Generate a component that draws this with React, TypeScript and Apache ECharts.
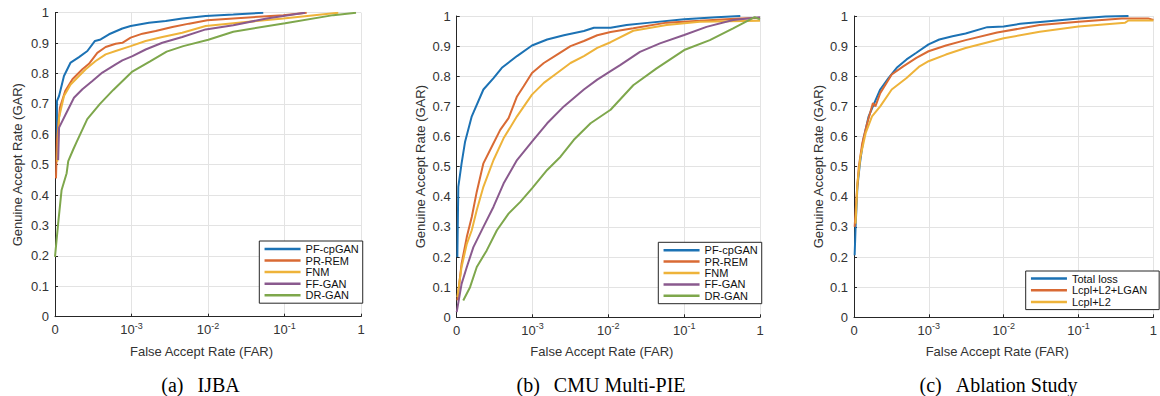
import React, { useEffect, useRef } from 'react';
import * as echarts from 'echarts';

// ---------- DATA ----------
// (a) IJBA
const IJBA_PFCPGAN_FAR = [1.06e-4, 1.06e-4, 1.13e-4, 1.31e-4, 1.60e-4, 2.06e-4, 2.65e-4, 3.33e-4, 3.95e-4, 5.08e-4, 7.59e-4, 9.75e-4, 1.69e-3, 2.80e-3, 4.61e-3, 9.33e-3, 2.14e-2, 5.28e-2];
const IJBA_PFCPGAN_GAR = [0.578, 0.709, 0.726, 0.792, 0.836, 0.854, 0.874, 0.907, 0.912, 0.929, 0.948, 0.956, 0.967, 0.973, 0.981, 0.989, 0.994, 1.0];
const IJBA_PRREM_FAR = [1.03e-4, 1.06e-4, 1.16e-4, 1.36e-4, 1.69e-4, 2.28e-4, 2.78e-4, 3.57e-4, 4.59e-4, 6.21e-4, 7.59e-4, 9.75e-4, 1.39e-3, 2.07e-3, 3.42e-3, 5.65e-3, 9.79e-3, 2.14e-2, 9.64e-2, 1.95e-1];
const IJBA_PRREM_GAR = [0.455, 0.58, 0.688, 0.742, 0.781, 0.814, 0.832, 0.868, 0.887, 0.898, 0.901, 0.918, 0.931, 0.94, 0.953, 0.964, 0.975, 0.981, 0.992, 1.0];
const IJBA_FNM_FAR = [1.07e-4, 1.13e-4, 1.31e-4, 1.60e-4, 2.06e-4, 2.52e-4, 3.40e-4, 4.59e-4, 6.21e-4, 9.75e-4, 1.53e-3, 2.53e-3, 4.61e-3, 9.33e-3, 2.14e-2, 9.64e-2, 5.05e-1];
const IJBA_FNM_GAR = [0.51, 0.655, 0.726, 0.764, 0.792, 0.814, 0.841, 0.863, 0.874, 0.89, 0.907, 0.92, 0.934, 0.956, 0.965, 0.981, 1.0];
const IJBA_FFGAN_FAR = [1.10e-4, 1.13e-4, 1.38e-4, 1.77e-4, 2.28e-4, 3.08e-4, 4.16e-4, 6.21e-4, 7.59e-4, 1.03e-3, 1.53e-3, 2.53e-3, 4.61e-3, 9.33e-3, 2.14e-2, 5.85e-2, 1.85e-1];
const IJBA_FFGAN_GAR = [0.515, 0.622, 0.666, 0.72, 0.748, 0.775, 0.803, 0.83, 0.843, 0.857, 0.879, 0.901, 0.92, 0.945, 0.959, 0.981, 1.0];
const IJBA_DRGAN_FAR = [1.0e-4, 1.10e-4, 1.22e-4, 1.42e-4, 1.49e-4, 1.73e-4, 1.92e-4, 2.64e-4, 3.87e-4, 5.78e-4, 1.01e-3, 1.75e-3, 2.88e-3, 4.75e-3, 1.01e-2, 2.14e-2, 1.02e-1, 4.35e-1, 8.61e-1];
const IJBA_DRGAN_GAR = [0.197, 0.307, 0.417, 0.472, 0.512, 0.55, 0.575, 0.65, 0.7, 0.746, 0.805, 0.84, 0.872, 0.89, 0.911, 0.9375, 0.965, 0.992, 1.0];

// (b) CMU Multi-PIE
const PIE_PFCPGAN_FAR = [1.02e-4, 1.05e-4, 1.16e-4, 1.29e-4, 1.58e-4, 2.25e-4, 3.06e-4, 3.94e-4, 6.24e-4, 9.84e-4, 1.56e-3, 2.59e-3, 4.76e-3, 6.46e-3, 1.07e-2, 1.74e-2, 3.53e-2, 1.0e-1, 2.66e-1, 5.50e-1];
const PIE_PFCPGAN_GAR = [0.2, 0.433, 0.511, 0.583, 0.667, 0.756, 0.794, 0.828, 0.867, 0.902, 0.922, 0.936, 0.95, 0.961, 0.961, 0.97, 0.978, 0.989, 0.996, 1.0];
const PIE_PRREM_FAR = [1.02e-4, 1.16e-4, 1.36e-4, 1.58e-4, 1.84e-4, 2.25e-4, 2.91e-4, 3.75e-4, 4.83e-4, 6.24e-4, 7.64e-4, 9.84e-4, 1.41e-3, 2.11e-3, 3.17e-3, 4.76e-3, 7.14e-3, 1.07e-2, 2.13e-2, 5.86e-2, 1.61e-1, 5.40e-1, 1.0];
const PIE_PRREM_GAR = [0.056, 0.178, 0.267, 0.333, 0.417, 0.511, 0.567, 0.622, 0.661, 0.733, 0.767, 0.811, 0.844, 0.872, 0.9, 0.917, 0.936, 0.947, 0.959, 0.978, 0.984, 0.992, 0.993];
const PIE_FNM_FAR = [1.02e-4, 1.16e-4, 1.36e-4, 1.58e-4, 1.84e-4, 2.25e-4, 3.06e-4, 4.15e-4, 6.24e-4, 9.84e-4, 1.41e-3, 2.11e-3, 3.17e-3, 4.76e-3, 7.14e-3, 1.07e-2, 2.13e-2, 5.86e-2, 1.61e-1, 1.0];
const PIE_FNM_GAR = [0.067, 0.167, 0.244, 0.289, 0.356, 0.433, 0.522, 0.594, 0.667, 0.739, 0.778, 0.811, 0.844, 0.867, 0.894, 0.913, 0.951, 0.97, 0.981, 0.984];
const PIE_FFGAN_FAR = [1.0e-4, 1.16e-4, 1.36e-4, 1.66e-4, 2.25e-4, 3.06e-4, 4.15e-4, 6.24e-4, 9.84e-4, 1.56e-3, 2.59e-3, 4.76e-3, 7.14e-3, 1.07e-2, 1.43e-2, 2.61e-2, 4.79e-2, 1.0e-1, 1.97e-1, 4.42e-1, 1.0];
const PIE_FFGAN_GAR = [0.017, 0.111, 0.167, 0.233, 0.3, 0.367, 0.444, 0.522, 0.583, 0.644, 0.7, 0.756, 0.789, 0.817, 0.837, 0.881, 0.909, 0.937, 0.964, 0.987, 0.996];
const PIE_DRGAN_FAR = [1.22e-4, 1.50e-4, 1.84e-4, 2.49e-4, 3.39e-4, 4.83e-4, 6.90e-4, 9.84e-4, 1.56e-3, 2.34e-3, 3.51e-3, 5.83e-3, 1.07e-2, 2.13e-2, 4.33e-2, 1.0e-1, 2.18e-1, 4.42e-1, 8.51e-1, 1.0];
const PIE_DRGAN_GAR = [0.056, 0.1, 0.167, 0.222, 0.289, 0.344, 0.383, 0.428, 0.489, 0.533, 0.589, 0.644, 0.689, 0.77, 0.826, 0.887, 0.92, 0.959, 0.996, 0.989];

// (c) Ablation Study
const ABL_TOTAL_FAR = [1.02e-4, 1.05e-4, 1.11e-4, 1.20e-4, 1.33e-4, 1.57e-4, 1.83e-4, 2.24e-4, 2.89e-4, 3.72e-4, 5.04e-4, 6.81e-4, 9.91e-4, 1.38e-3, 2.07e-3, 3.10e-3, 6.04e-3, 1.0e-2, 1.66e-2, 3.36e-2, 1.0e-1, 2.29e-1, 4.65e-1];
const ABL_TOTAL_GAR = [0.206, 0.3, 0.433, 0.511, 0.589, 0.667, 0.706, 0.756, 0.794, 0.828, 0.856, 0.878, 0.906, 0.922, 0.933, 0.942, 0.963, 0.965, 0.974, 0.981, 0.992, 0.998, 1.0];
const ABL_LGAN_FAR = [1.02e-4, 1.08e-4, 1.16e-4, 1.29e-4, 1.50e-4, 1.79e-4, 1.93e-4, 2.24e-4, 3.19e-4, 4.55e-4, 6.81e-4, 9.91e-4, 1.69e-3, 3.10e-3, 8.17e-3, 3.03e-2, 1.0e-1, 3.79e-1, 8.51e-1, 1.0];
const ABL_LGAN_GAR = [0.3, 0.4, 0.5, 0.578, 0.644, 0.711, 0.7, 0.744, 0.806, 0.833, 0.861, 0.883, 0.902, 0.92, 0.945, 0.97, 0.981, 0.992, 0.992, 0.987];
const ABL_L2_FAR = [1.05e-4, 1.11e-4, 1.22e-4, 1.43e-4, 1.74e-4, 2.24e-4, 3.19e-4, 5.04e-4, 7.53e-4, 9.91e-4, 1.69e-3, 3.10e-3, 1.0e-2, 3.03e-2, 1.0e-1, 4.20e-1, 4.65e-1, 1.0];
const ABL_L2_GAR = [0.311, 0.444, 0.533, 0.611, 0.667, 0.7, 0.756, 0.794, 0.833, 0.85, 0.872, 0.894, 0.926, 0.948, 0.965, 0.978, 0.985, 0.985];

const NAMES_AB = ['PF-cpGAN', 'PR-REM', 'FNM', 'FF-GAN', 'DR-GAN'];
const NAMES_C = ['Total loss', 'Lcpl+L2+LGAN', 'Lcpl+L2'];
const CAPTIONS = ['(a)\u2002\u2009IJBA', '(b)\u2002\u2009CMU Multi-PIE', '(c)\u2002\u2009Ablation Study'];
const X_TITLE = 'False Accept Rate (FAR)';
const Y_TITLE = 'Genuine Accept Rate (GAR)';

// ---------- STYLE ----------
const FONT = "'Liberation Sans', Arial, sans-serif";
const SERIF = "'Liberation Serif', 'Times New Roman', serif";
const TXT = '#333333';
const AXIS = '#262626';
const GRIDC = '#e3e3e3';
const COLORS = ['#1c72b4', '#d96a34', '#eeb33a', '#8a5a8e', '#7ea74c'];

const GRIDS = [
  { left: 55, top: 12.7, width: 306, height: 304 },
  { left: 456.7, top: 16, width: 303.3, height: 301.3 },
  { left: 854, top: 16, width: 304.3, height: 301.3 },
];
const Y_NAME_GAP = [31.5, 30.2, 29.5];
const LEGENDS = [
  { left: 259.3, top: 241, padding: [2.3, 4, 2.3, 4], gap: 0.4 },
  { left: 658.3, top: 242.3, padding: [2.3, 4, 2.3, 4], gap: 0.2 },
  { left: 1025.7, top: 271, padding: [2.0, 12, 2.0, 4], gap: 0.5 },
];
const CAPTION_X = [200.5, 601, 998.5];

const zip = (xs: number[], ys: number[]) => xs.map((x, i) => [x, ys[i]]);

const PANELS = [
  { names: NAMES_AB, data: [zip(IJBA_PFCPGAN_FAR, IJBA_PFCPGAN_GAR), zip(IJBA_PRREM_FAR, IJBA_PRREM_GAR), zip(IJBA_FNM_FAR, IJBA_FNM_GAR), zip(IJBA_FFGAN_FAR, IJBA_FFGAN_GAR), zip(IJBA_DRGAN_FAR, IJBA_DRGAN_GAR)] },
  { names: NAMES_AB, data: [zip(PIE_PFCPGAN_FAR, PIE_PFCPGAN_GAR), zip(PIE_PRREM_FAR, PIE_PRREM_GAR), zip(PIE_FNM_FAR, PIE_FNM_GAR), zip(PIE_FFGAN_FAR, PIE_FFGAN_GAR), zip(PIE_DRGAN_FAR, PIE_DRGAN_GAR)] },
  { names: NAMES_C, data: [zip(ABL_TOTAL_FAR, ABL_TOTAL_GAR), zip(ABL_LGAN_FAR, ABL_LGAN_GAR), zip(ABL_L2_FAR, ABL_L2_GAR)] },
];

const xLabel = (v: number) => {
  const e = Math.round(Math.log10(v));
  if (e <= -4) return '0';
  if (e >= 0) return '1';
  return `10{sup|${e}}`;
};

function buildOption() {
  const grid = GRIDS.map((g) => ({ ...g, containLabel: false }));
  const xAxis = GRIDS.map((_, i) => ({
    type: 'log', logBase: 10, min: 1e-4, max: 1, gridIndex: i,
    axisLine: { show: true, onZero: false, lineStyle: { color: AXIS, width: 1 } },
    axisTick: { show: true, inside: true, length: 3, lineStyle: { color: AXIS } },
    splitLine: { show: true, lineStyle: { color: GRIDC, width: 1 } },
    axisLabel: {
      margin: 6.5, color: TXT, fontFamily: FONT, fontSize: 13, lineHeight: 13,
      formatter: xLabel,
      rich: { sup: { fontSize: 9, lineHeight: 9, padding: [0, 0, 8, 0], color: TXT, fontFamily: FONT } },
    },
    name: X_TITLE, nameLocation: 'middle', nameGap: 28,
    nameTextStyle: { color: TXT, fontFamily: FONT, fontSize: 13, padding: [0, 13, 0, 0] },
  }));
  const yAxis = GRIDS.map((_, i) => ({
    type: 'value', min: 0, max: 1, interval: 0.1, gridIndex: i,
    axisLine: { show: true, onZero: false, lineStyle: { color: AXIS, width: 1 } },
    axisTick: { show: true, inside: true, length: 3, lineStyle: { color: AXIS } },
    splitLine: { show: true, lineStyle: { color: GRIDC, width: 1 } },
    axisLabel: { margin: 6, color: TXT, fontFamily: FONT, fontSize: 13, formatter: (v: number) => String(Math.round(v * 10) / 10) },
    name: Y_TITLE, nameLocation: 'middle', nameGap: Y_NAME_GAP[i],
    nameTextStyle: { color: TXT, fontFamily: FONT, fontSize: 13 },
  }));
  const series: any[] = [];
  PANELS.forEach((p, i) => {
    p.data.forEach((d, k) => {
      series.push({
        type: 'line', name: p.names[k], xAxisIndex: i, yAxisIndex: i, data: d,
        symbol: 'none', showSymbol: false, color: COLORS[k],
        lineStyle: { width: 2, color: COLORS[k] }, clip: true,
      });
    });
  });
  const legend = LEGENDS.map((l, i) => ({
    show: true, orient: 'vertical', left: l.left, top: l.top,
    data: PANELS[i].names, itemWidth: 36, itemHeight: 14, itemGap: l.gap,
    padding: l.padding, borderColor: AXIS, borderWidth: 1, borderRadius: 0, backgroundColor: '#ffffff',
    selectedMode: false,
    itemStyle: { opacity: 0 },
    lineStyle: { width: 2.5 },
    textStyle: { fontFamily: FONT, fontSize: 11, color: '#111111' },
  }));
  const graphic = CAPTIONS.map((c, i) => ({
    type: 'text', x: CAPTION_X[i], y: 385,
    style: { text: c, font: `20px ${SERIF}`, fill: '#000000', align: 'center', verticalAlign: 'middle' },
  }));
  return { animation: false, backgroundColor: '#ffffff', grid, xAxis, yAxis, series, legend, graphic };
}

export default function App() {
  const ref = useRef<HTMLDivElement>(null);
  useEffect(() => {
    if (!ref.current) return;
    const chart = echarts.init(ref.current, undefined, { renderer: 'svg' });
    chart.setOption(buildOption() as any);
    return () => chart.dispose();
  }, []);
  return <div ref={ref} style={{ position: 'absolute', left: 0, top: 0, width: 1160, height: 396, background: '#fff' }} />;
}
